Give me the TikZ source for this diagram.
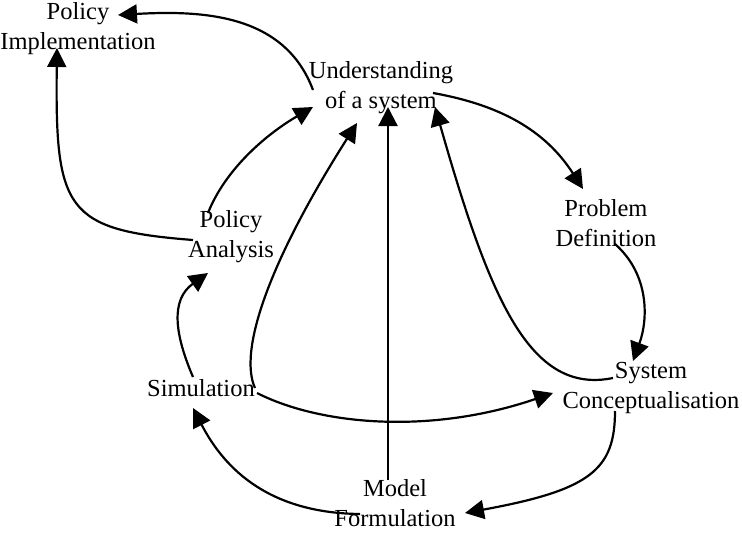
\documentclass[tikz,border=0pt]{standalone}
\usepackage{fontspec}
\setmainfont{Liberation Serif}
\usetikzlibrary{arrows.meta}

\begin{document}
\begin{tikzpicture}[x=1pt,y=-1pt,
        every node/.style={align=center,inner sep=0pt,font=\fontsize{24.5}{30}\selectfont},
        flow/.style={line width=2.2pt,-{Triangle[length=19pt,width=19pt]}}]
        \useasboundingbox (0,0) rectangle (742,533);

        \node (impl)     at (78,29)   {Policy\\Implementation};
        \node (under)    at (381,88)  {Understanding\\of a system};
        \node (probdef)  at (606,223) {Problem\\Definition};
        \node (analysis) at (231,237) {Policy\\Analysis};
        \node (sim)      at (201,388) {Simulation};
        \node (concept)  at (651,388) {System\\Conceptualisation};
        \node (model)    at (395,503) {Model\\Formulation};

        \draw[flow] ([shift={(-68,2)}]under.center) .. controls (285,15) and (205,10) .. ([shift={(40,-14)}]impl.center);
        \draw[flow] ([shift={(-38,3)}]analysis.center) .. controls (65,230) and (55,210) .. ([shift={(-21,19)}]impl.center);
        \draw[flow] ([shift={(-23,-24)}]analysis.center) .. controls (225,170) and (265,135) .. ([shift={(-68,19)}]under.center);
        \draw[flow] ([shift={(-8,-11)}]sim.center) .. controls (175,335) and (170,300) .. ([shift={(-23,36)}]analysis.center);
        \draw[flow] (sim.east) .. controls (238,350) and (270,260) .. ([shift={(-24,35)}]under.center);
        \draw[flow] ([shift={(56,5)}]sim.center) .. controls (320,425) and (430,435) .. ([shift={(-98,5)}]concept.center);
        \draw[flow] ([shift={(-7,-23)}]model.center) -- ([shift={(7,19)}]under.center);
        \draw[flow] ([shift={(52,5)}]under.center) .. controls (500,105) and (545,130) .. ([shift={(-23,-34)}]probdef.center);
        \draw[flow] ([shift={(9,21)}]probdef.center) .. controls (650,275) and (648,320) .. ([shift={(-18,-27)}]concept.center);
        \draw[flow] ([shift={(-38,-10)}]concept.center) .. controls (530,395) and (490,300) .. ([shift={(54,19)}]under.center);
        \draw[flow] ([shift={(-36,23)}]concept.center) .. controls (615,470) and (590,490) .. ([shift={(70,10)}]model.center);
        \draw[flow] ([shift={(-35,11)}]model.center) .. controls (270,513) and (225,470) .. ([shift={(-8,20)}]sim.center);
\end{tikzpicture}
\end{document}
